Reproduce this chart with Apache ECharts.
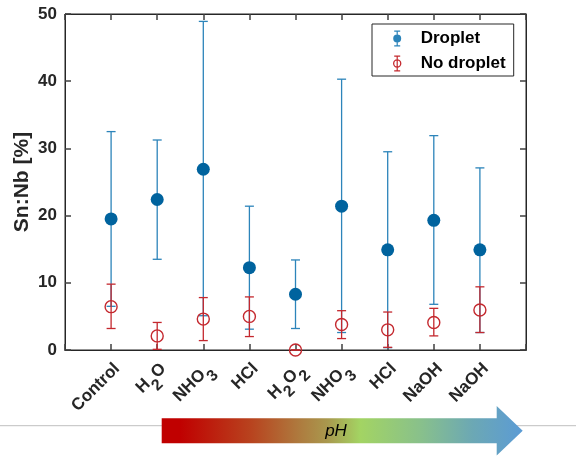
<!DOCTYPE html>
<html>
<head>
<meta charset="utf-8">
<script src="https://cdn.jsdelivr.net/npm/echarts@6/dist/echarts.min.js"></script>
<style>
  html, body { margin: 0; padding: 0; background: #fff; }
  #chart { width: 576px; height: 456px; }
</style>
</head>
<body>
<div id="chart"></div>
<script>
// categories, "_x" marks a subscript character
var categories = ['Control', 'H_2O', 'NHO_3', 'HCl', 'H_2O_2', 'NHO_3', 'HCl', 'NaOH', 'NaOH'];
var yTicks = [0, 10, 20, 30, 40, 50];

// Droplet: mean, lower and upper end of error bar
var dropletMean = [19.5, 22.4, 26.9, 12.25, 8.3, 21.4, 14.9, 19.3, 14.9];
var dropletLow  = [6.5, 13.5, 5.1, 3.1, 3.2, 2.6, 0.35, 6.8, 2.6];
var dropletHigh = [32.5, 31.25, 48.9, 21.4, 13.4, 40.3, 29.5, 31.9, 27.1];

// No droplet
var noDropMean = [6.45, 2.1, 4.6, 5.0, 0, 3.8, 3.0, 4.1, 5.95];
var noDropLow  = [3.2, 0.1, 1.4, 2.0, 0, 1.7, 0.4, 2.1, 2.6];
var noDropHigh = [9.8, 4.1, 7.8, 7.9, 0, 5.85, 5.65, 6.2, 9.4];

var FONT = '"Liberation Sans", Arial, sans-serif';
var TXT = '#262626';
var BLUE_DOT = '#00639E';
var BLUE_BAR = '#2C84BA';
var RED = '#C4282E';

var myChart = echarts.init(document.getElementById('chart'));

function toRich(name) {
  var out = '';
  for (var i = 0; i < name.length; i++) {
    if (name[i] === '_' && i + 1 < name.length) {
      out += '{s|' + name[i + 1] + '}';
      i++;
    } else {
      out += '{n|' + name[i] + '}';
    }
  }
  return out;
}

function pts(mean) {
  return mean.map(function (v, i) { return [i + 1, v]; });
}
function bars(low, high) {
  return low.map(function (v, i) { return [i + 1, v, high[i]]; });
}

function errRender(color) {
  return function (params, api) {
    var x = api.value(0);
    var lo = api.coord([x, api.value(1)]);
    var hi = api.coord([x, api.value(2)]);
    var w = 4.5;
    var st = { stroke: color, lineWidth: 1.3 };
    return {
      type: 'group',
      children: [
        { type: 'line', shape: { x1: lo[0], y1: lo[1], x2: hi[0], y2: hi[1] }, style: st },
        { type: 'line', shape: { x1: lo[0] - w, y1: lo[1], x2: lo[0] + w, y2: lo[1] }, style: st },
        { type: 'line', shape: { x1: hi[0] - w, y1: hi[1], x2: hi[0] + w, y2: hi[1] }, style: st }
      ]
    };
  };
}

var iconFilled = 'path://M2,0H8V1.2H2Z M4.4,0H5.6V16H4.4Z M2,14.8H8V16H2Z M1,8A4,4,0,1,1,9,8A4,4,0,1,1,1,8Z';
var iconOpen = 'path://M2,0H8V1.2H2Z M4.4,0H5.6V16H4.4Z M2,14.8H8V16H2Z ' +
  'M0.8,8A4.2,4.2,0,1,1,9.2,8A4.2,4.2,0,1,1,0.8,8Z M2.1,8A2.9,2.9,0,1,0,7.9,8A2.9,2.9,0,1,0,2.1,8Z';

function axLine() { return { show: true, onZero: false, lineStyle: { color: TXT, width: 1 } }; }
function axTick() { return { show: true, inside: true, length: 6, lineStyle: { color: '#404040', width: 1.5 } }; }

var option = {
  animation: false,
  grid: { left: 65, right: 50, top: 14, bottom: 106, show: true, borderColor: TXT, borderWidth: 1, backgroundColor: 'transparent' },
  legend: {
    orient: 'vertical',
    left: 372,
    top: 24,
    selectedMode: false,
    backgroundColor: '#fff',
    borderColor: TXT,
    borderWidth: 1,
    padding: [6, 8, 4, 21],
    itemGap: 8,
    itemWidth: 37,
    itemHeight: 16,
    textStyle: { fontFamily: FONT, fontWeight: 'bold', fontSize: 17, color: '#000', lineHeight: 16 },
    data: [
      { name: 'Droplet', icon: iconFilled, itemStyle: { color: BLUE_BAR, borderWidth: 0 } },
      { name: 'No droplet', icon: iconOpen, itemStyle: { color: RED, borderWidth: 0 } }
    ]
  },
  xAxis: [{
    // category labels
    type: 'value', min: 0, max: 10, interval: 1,
    axisLine: axLine(), axisTick: { show: false }, splitLine: { show: false },
    axisLabel: {
      rotate: 45, margin: 10, padding: [26, 0, 0, 0],
      formatter: function (v) {
        var c = categories[v - 1];
        return c ? toRich(c) : '';
      },
      rich: {
        n: { fontFamily: FONT, fontWeight: 'bold', fontSize: 17, color: TXT, lineHeight: 26, verticalAlign: 'top' },
        s: { fontFamily: FONT, fontWeight: 'bold', fontSize: 16, color: TXT, lineHeight: 26, verticalAlign: 'bottom' }
      }
    }
  }, {
    type: 'value', position: 'top', min: 0, max: 10, interval: 1,
    axisLine: axLine(), axisTick: axTick(), axisLabel: { show: false }, splitLine: { show: false }
  }, {
    // inside ticks of the bottom edge
    type: 'value', position: 'bottom', min: 0, max: 10, interval: 1,
    axisLine: axLine(), axisTick: axTick(), axisLabel: { show: false }, splitLine: { show: false }
  }],
  yAxis: [{
    type: 'value', min: yTicks[0], max: yTicks[yTicks.length - 1], interval: 10,
    name: 'Sn:Nb [%]', nameLocation: 'middle', nameGap: 32, nameMoveOverlap: false,
    nameTextStyle: { fontFamily: FONT, fontWeight: 'bold', fontSize: 21, color: TXT },
    axisLine: axLine(), axisTick: axTick(), splitLine: { show: false },
    axisLabel: { margin: 8, fontFamily: FONT, fontWeight: 'bold', fontSize: 17, color: TXT }
  }, {
    type: 'value', position: 'right', min: yTicks[0], max: yTicks[yTicks.length - 1], interval: 10,
    axisLine: axLine(), axisTick: axTick(), axisLabel: { show: false }, splitLine: { show: false }
  }],
  series: [
    {
      name: 'Droplet', type: 'custom', z: 2,
      renderItem: errRender(BLUE_BAR),
      itemStyle: { color: BLUE_BAR },
      data: bars(dropletLow, dropletHigh)
    },
    {
      name: 'Droplet', type: 'scatter', z: 3,
      symbol: 'circle', symbolSize: 13,
      itemStyle: { color: BLUE_DOT, opacity: 1 },
      data: pts(dropletMean)
    },
    {
      name: 'No droplet', type: 'custom', z: 4,
      renderItem: errRender(RED),
      itemStyle: { color: RED },
      data: bars(noDropLow, noDropHigh)
    },
    {
      name: 'No droplet', type: 'scatter', z: 5,
      symbol: 'circle', symbolSize: 12,
      itemStyle: { color: 'rgba(0,0,0,0)', borderColor: RED, borderWidth: 1.4, opacity: 1 },
      data: pts(noDropMean)
    },
    // empty series so the frame axes are drawn
    { type: 'scatter', xAxisIndex: 1, yAxisIndex: 1, data: [], silent: true },
    { type: 'scatter', xAxisIndex: 2, yAxisIndex: 1, data: [], silent: true }
  ],
  graphic: [
    {
      type: 'line', z: 1,
      shape: { x1: 0, y1: 425.7, x2: 576, y2: 425.7 },
      style: { stroke: '#BFBFBF', lineWidth: 1 }
    },
    {
      type: 'polygon', z: 2,
      shape: { points: [[161.7, 418.3], [496.7, 418.3], [496.7, 406], [522.7, 430.8], [496.7, 455.6], [496.7, 443.3], [161.7, 443.3]] },
      style: {
        fill: new echarts.graphic.LinearGradient(0, 0, 1, 0, [
          { offset: 0, color: '#C00000' },
          { offset: 0.05, color: '#C00000' },
          { offset: 0.25, color: '#B8441F' },
          { offset: 0.38, color: '#AE7A3E' },
          { offset: 0.46, color: '#A9994E' },
          { offset: 0.55, color: '#A3D463' },
          { offset: 0.72, color: '#88C08C' },
          { offset: 0.86, color: '#6CA8B4' },
          { offset: 1, color: '#5B9BD5' }
        ])
      }
    },
    {
      type: 'text', z: 3, x: 336, y: 431,
      style: { text: 'pH', fontFamily: FONT, fontStyle: 'italic', fontSize: 17, fill: '#000', align: 'center', verticalAlign: 'middle' }
    }
  ]
};

myChart.setOption(option);
</script>
</body>
</html>
